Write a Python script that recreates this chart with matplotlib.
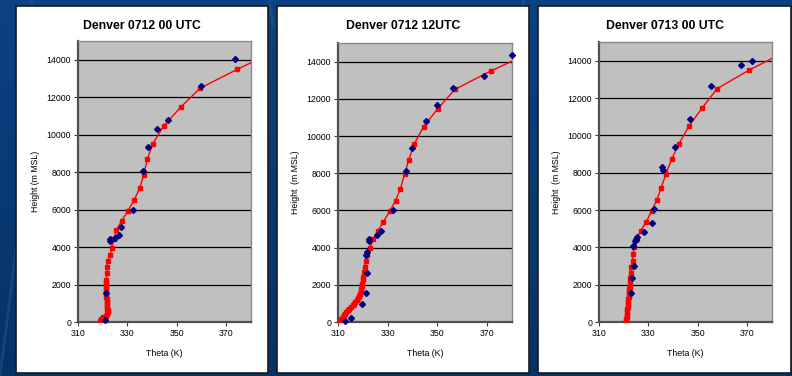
import numpy as np
import matplotlib.pyplot as plt
from matplotlib.patches import Rectangle
from matplotlib.lines import Line2D

plt.rcParams['font.family'] = ['Liberation Sans', 'DejaVu Sans']

titles = ["Denver 0712 00 UTC", "Denver 0712 12UTC", "Denver 0713 00 UTC"]

# Denver 0712 00 UTC
p1_model_theta = [319.0, 319.5, 320.3, 321.2, 321.8, 322.0, 322.0, 321.9, 321.9, 321.8,
                  321.8, 321.7, 321.6, 321.5, 321.4, 321.4, 321.3, 321.3, 321.3, 321.4,
                  321.5, 321.6, 321.8, 322.0, 323.1, 323.6, 324.5, 325.5, 327.7, 330.1,
                  332.8, 335.0, 336.6, 338.1, 340.3, 344.7, 351.6, 359.3, 374.3, 392.0]
p1_model_height = [30, 180, 260, 340, 430, 520, 620, 720, 820, 920,
                   1020, 1130, 1240, 1360, 1480, 1600, 1720, 1850, 1980, 2120,
                   2260, 2600, 2935, 3240, 3590, 3970, 4410, 4890, 5410, 5920,
                   6530, 7170, 7860, 8720, 9520, 10480, 11470, 12470, 13480, 14600]
p1_obs_theta = [321.1, 321.5, 322.8, 323.0, 324.9, 326.5, 327.4, 332.4, 336.3, 338.4,
                341.9, 346.4, 359.7, 373.5]
p1_obs_height = [125, 1565, 4330, 4420, 4500, 4660, 5070, 6000, 8080, 9340,
                 10300, 10760, 12600, 14040]

# Denver 0712 12UTC
p2_model_theta = [310.8, 311.4, 311.9, 312.4, 312.9, 313.4, 314.0, 314.6, 315.3, 316.0,
                  316.5, 317.0, 317.6, 318.1, 318.5, 318.8, 319.1, 319.3, 319.6, 319.8,
                  320.0, 320.2, 320.4, 320.8, 321.1, 321.8, 322.9, 324.1, 326.0, 328.2,
                  330.9, 333.2, 335.1, 336.8, 338.5, 340.6, 344.4, 350.1, 357.0, 371.5,
                  392.0]
p2_model_height = [35, 180, 270, 360, 450, 540, 630, 720, 810, 900,
                   990, 1080, 1180, 1290, 1400, 1520, 1650, 1790, 1920, 2060,
                   2240, 2420, 2690, 2960, 3260, 3620, 4000, 4450, 4900, 5380,
                   5970, 6530, 7170, 7940, 8730, 9560, 10490, 11460, 12500, 13500,
                   14750]
p2_obs_theta = [312.8, 315.4, 319.8, 321.1, 321.5, 321.1, 321.7, 322.5, 322.6, 325.7,
                327.2, 332.1, 337.4, 339.9, 345.5, 349.8, 356.1, 368.7, 380.0]
p2_obs_height = [35, 215, 950, 1580, 2640, 3590, 3770, 4340, 4480, 4700,
                 4900, 6010, 8100, 9380, 10810, 11690, 12600, 13210, 14330]

# Denver 0713 00 UTC
p3_model_theta = [321.1, 321.1, 321.2, 321.3, 321.4, 321.5, 321.7, 321.7, 321.8, 321.9,
                  322.1, 322.1, 322.2, 322.3, 322.4, 322.5, 322.7, 322.9, 323.0, 323.6,
                  323.8, 324.1, 325.2, 326.9, 329.2, 331.3, 333.4, 335.1, 337.1, 339.4,
                  342.4, 346.4, 351.7, 357.8, 370.8, 392.0]
p3_model_height = [35, 150, 270, 400, 540, 670, 810, 940, 1080, 1210,
                   1340, 1480, 1610, 1750, 1880, 2150, 2380, 2600, 2960, 3260,
                   3620, 4000, 4450, 4900, 5380, 5970, 6530, 7170, 7940, 8730,
                   9560, 10490, 11460, 12500, 13500, 14920]
p3_obs_theta = [323.0, 323.4, 324.0, 323.7, 324.4, 325.0, 325.4, 328.4, 331.3, 332.4,
                335.6, 335.9, 340.7, 346.9, 355.5, 367.5, 371.8]
p3_obs_height = [1580, 2380, 3010, 4090, 4340, 4460, 4540, 4800, 5330, 6040,
                 8300, 8120, 9360, 10850, 12640, 13790, 14000]

model = [(p1_model_theta, p1_model_height),
         (p2_model_theta, p2_model_height),
         (p3_model_theta, p3_model_height)]
obs = [(p1_obs_theta, p1_obs_height),
       (p2_obs_theta, p2_obs_height),
       (p3_obs_theta, p3_obs_height)]

x_ticks = [310, 330, 350, 370]
y_ticks = [0, 2000, 4000, 6000, 8000, 10000, 12000, 14000]

W, H = 792, 376
fig = plt.figure(figsize=(W / 100, H / 100), dpi=100)

# dark blue slide background with a few faint streaks
bg = fig.add_axes([0, 0, 1, 1], zorder=-10)
grad = np.linspace(0, 1, 100)[:, None] * np.ones((1, 100))
bg.imshow(grad, cmap=plt.matplotlib.colors.LinearSegmentedColormap.from_list(
    "slide", ["#0b4282", "#073266"]), aspect="auto", extent=[0, 1, 0, 1])
for x0, y0, x1, y1 in [(0.04, 1.0, 0.045, 0.9), (0.03, 0.5, 0.0, 0.0),
                       (0.34, 1.0, 0.345, 0.93), (0.66, 1.0, 0.665, 0.95)]:
    bg.add_line(Line2D([x0, x1], [y0, y1], color="#2a65a8", lw=2.0, alpha=0.35))
bg.set_xlim(0, 1)
bg.set_ylim(0, 1)
bg.axis("off")

# white chart panels, pixel coordinates (left, right)
panels = [(16, 268), (277, 529), (538, 791)]
panel_top, panel_bottom = 6, 373
axes_px = [(78, 251, 41, 322), (338, 512, 43, 322), (599, 772, 42, 322)]

for i in range(3):
    pl, pr = panels[i]
    fig.patches.append(Rectangle((pl / W, 1 - panel_bottom / H), (pr - pl) / W,
                                 (panel_bottom - panel_top) / H,
                                 transform=fig.transFigure, facecolor="white",
                                 edgecolor="#1a1a1a", lw=1.2, zorder=-5))

    l, r, t, b = axes_px[i]
    ax = fig.add_axes([l / W, 1 - b / H, (r - l) / W, (b - t) / H])
    ax.set_facecolor("#c0c0c0")
    ax.set_xlim(310, 380)
    ax.set_ylim(0, 15000)
    ax.set_xticks(x_ticks)
    ax.set_yticks(y_ticks)
    ax.grid(axis="y", color="black", lw=0.9)
    ax.set_axisbelow(True)
    ax.tick_params(labelsize=6.3, length=3, width=0.8, color="#404040", pad=2)
    for side in ["left", "bottom"]:
        ax.spines[side].set_color("#505050")
        ax.spines[side].set_linewidth(1.6)
    for side in ["top", "right"]:
        ax.spines[side].set_color("#8a8a8a")
        ax.spines[side].set_linewidth(1.0)

    mt, mh = model[i]
    ax.plot(mt, mh, color="#ff0000", lw=1.0, marker="s", markersize=3.4,
            markerfacecolor="#ff0000", markeredgecolor="#ff0000", zorder=3)
    ot, oh = obs[i]
    ax.plot(ot, oh, ls="none", marker="D", markersize=3.0, color="#000080",
            zorder=4, clip_on=False)

    ax.set_xlabel("Theta (K)", fontsize=6.3, labelpad=8)
    ax.set_ylabel("Height  (m MSL)" if i else "Height (m MSL)", fontsize=6.3,
                  labelpad=5)
    fig.text((pl + pr) / 2 / W, 1 - 26 / H, titles[i], ha="center", va="center",
             fontsize=8.8, fontweight="bold")

fig.savefig("out.png", dpi=100)
